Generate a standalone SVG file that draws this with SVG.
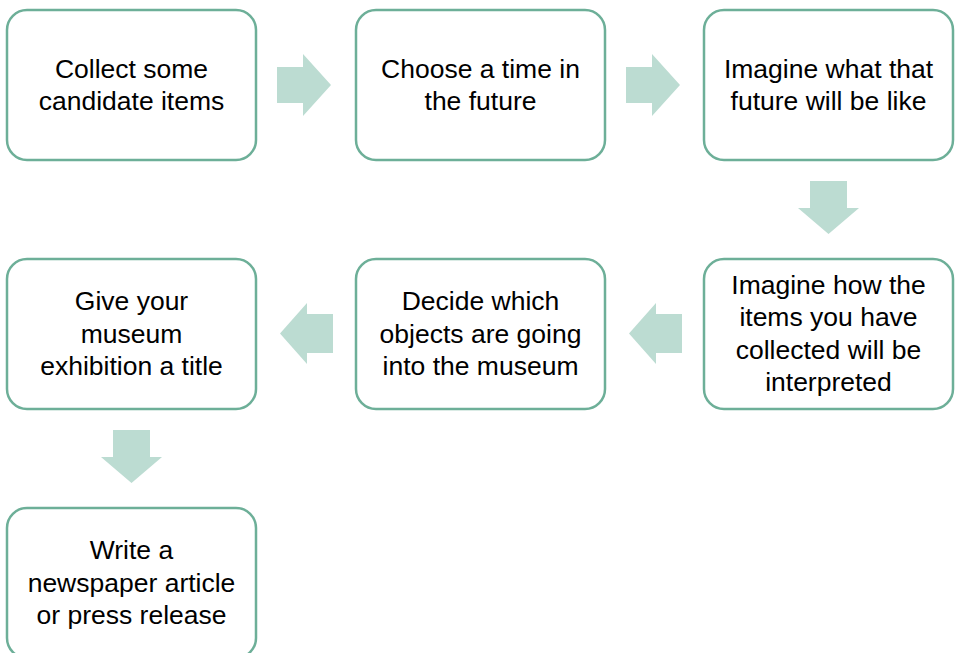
<svg xmlns="http://www.w3.org/2000/svg" width="955" height="653" viewBox="0 0 955 653">
<style>
.box{fill:#fff;stroke:#6DAF98;stroke-width:2.5}
.arr{fill:#BCDCD2}
text{font-family:"Liberation Sans",Arial,sans-serif;font-size:26.5px;fill:#000;text-anchor:middle}
</style>
<rect width="955" height="653" fill="#fff"/>
<g id="connectors">
<polygon class="arr" points="277,67 303,67 303,54 331,85 303,116 303,103 277,103"/>
<polygon class="arr" points="626,67 652,67 652,54 680,85 652,116 652,103 626,103"/>
<polygon class="arr" points="810,181 847,181 847,208 859,208 828.5,234 798,208 810,208"/>
<polygon class="arr" points="682,314 656,314 656,303 629,333.5 656,364 656,353 682,353"/>
<polygon class="arr" points="333,314 307,314 307,303 280,333.5 307,364 307,353 333,353"/>
<polygon class="arr" points="113,430 150,430 150,457 162,457 131.5,483 101,457 113,457"/>
</g>
<g id="n1"><rect class="box" x="7" y="10" width="249" height="150" rx="20"/>
<text x="131.5" y="78">Collect some</text><text x="131.5" y="110">candidate items</text></g>
<g id="n2"><rect class="box" x="356" y="10" width="249" height="150" rx="20"/>
<text x="480.5" y="78">Choose a time in</text><text x="480.5" y="110">the future</text></g>
<g id="n3"><rect class="box" x="704" y="10" width="249" height="150" rx="20"/>
<text x="828.5" y="78">Imagine what that</text><text x="828.5" y="110">future will be like</text></g>
<g id="n4"><rect class="box" x="704" y="259" width="249" height="150" rx="20"/>
<text x="828.5" y="294">Imagine how the</text><text x="828.5" y="326">items you have</text><text x="828.5" y="359">collected will be</text><text x="828.5" y="391">interpreted</text></g>
<g id="n5"><rect class="box" x="356" y="259" width="249" height="150" rx="20"/>
<text x="480.5" y="310">Decide which</text><text x="480.5" y="343">objects are going</text><text x="480.5" y="375">into the museum</text></g>
<g id="n6"><rect class="box" x="7" y="259" width="249" height="150" rx="20"/>
<text x="131.5" y="310">Give your</text><text x="131.5" y="343">museum</text><text x="131.5" y="375">exhibition a title</text></g>
<g id="n7"><rect class="box" x="7" y="508" width="249" height="150" rx="20"/>
<text x="131.5" y="559">Write a</text><text x="131.5" y="592">newspaper article</text><text x="131.5" y="624">or press release</text></g>
</svg>
